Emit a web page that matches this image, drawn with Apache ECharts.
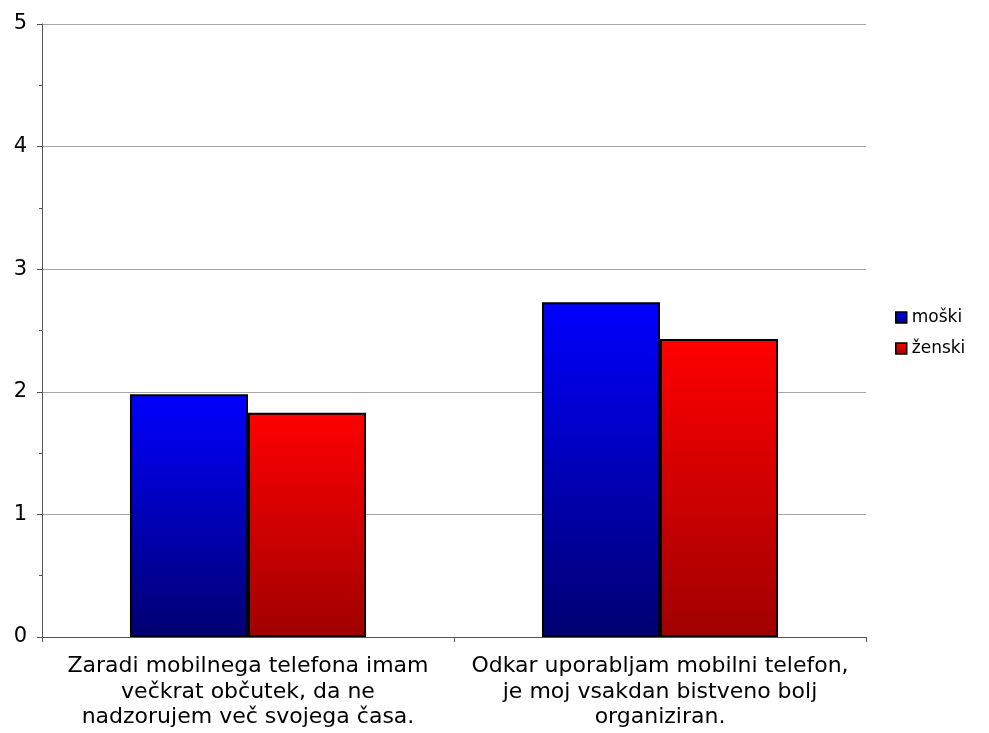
<!DOCTYPE html>
<html>
<head>
<meta charset="utf-8">
<script src="https://cdn.jsdelivr.net/npm/echarts@6/dist/echarts.min.js"></script>
<style>
  html, body { margin: 0; padding: 0; background: #fff; }
  #chart { width: 989px; height: 733px; }
</style>
</head>
<body>
<div id="chart"></div>
<script>
const categories = [
  "Zaradi mobilnega telefona imam\nvečkrat občutek, da ne\nnadzorujem več svojega časa.",
  "Odkar uporabljam mobilni telefon,\nje moj vsakdan bistveno bolj\norganiziran."
];
const moski = [1.98, 2.73];
const zenski = [1.83, 2.43];
const seriesNames = ["moški", "ženski"];

const font = "DejaVu Sans, Verdana, sans-serif";

const grad = (top, bottom) =>
  new echarts.graphic.LinearGradient(0, 0, 0, 1, [
    { offset: 0, color: top },
    { offset: 1, color: bottom },
  ]);

const chart = echarts.init(document.getElementById("chart"));

const option = {
  animation: false,
  backgroundColor: "#fff",
  grid: { left: 42, right: 123, top: 24, bottom: 96 },
  legend: {
    orient: "vertical",
    left: 890,
    top: 304,
    itemWidth: 11,
    itemHeight: 11,
    itemGap: 14,
    textStyle: { fontFamily: font, fontSize: 17, color: "#000" },
    data: seriesNames.map((n, i) => ({
      name: n,
      icon: "rect",
      itemStyle: {
        color: i === 0 ? grad("#0000ff", "#000080") : grad("#ff0000", "#a00000"),
        borderColor: "#000",
        borderWidth: 1.5,
      },
    })),
  },
  xAxis: {
    type: "category",
    data: categories,
    axisLine: { lineStyle: { color: "#555", width: 1 } },
    axisTick: { show: true, length: 5, lineStyle: { color: "#555" } },
    axisLabel: {
      interval: 0,
      margin: 17,
      fontFamily: font,
      fontSize: 22,
      lineHeight: 25.5,
      color: "#000",
    },
  },
  yAxis: {
    type: "value",
    min: 0,
    max: 5,
    interval: 1,
    axisLine: { show: true, lineStyle: { color: "#555", width: 1 } },
    axisTick: { show: true, length: 5, lineStyle: { color: "#555" } },
    minorTick: { show: true, splitNumber: 2, length: 3, lineStyle: { color: "#555" } },
    splitLine: { lineStyle: { color: "#a6a6a6", width: 1 } },
    axisLabel: { margin: 15, fontFamily: font, fontSize: 21, color: "#000" },
  },
  series: [
    {
      name: seriesNames[0],
      type: "bar",
      data: moski,
      barGap: "0%",
      barCategoryGap: "42.7%",
      itemStyle: {
        color: grad("#0000ff", "#000070"),
        borderColor: "#000",
        borderWidth: 2,
      },
    },
    {
      name: seriesNames[1],
      type: "bar",
      data: zenski,
      itemStyle: {
        color: grad("#ff0000", "#a00000"),
        borderColor: "#000",
        borderWidth: 2,
      },
    },
  ],
};

chart.setOption(option);
</script>
</body>
</html>
